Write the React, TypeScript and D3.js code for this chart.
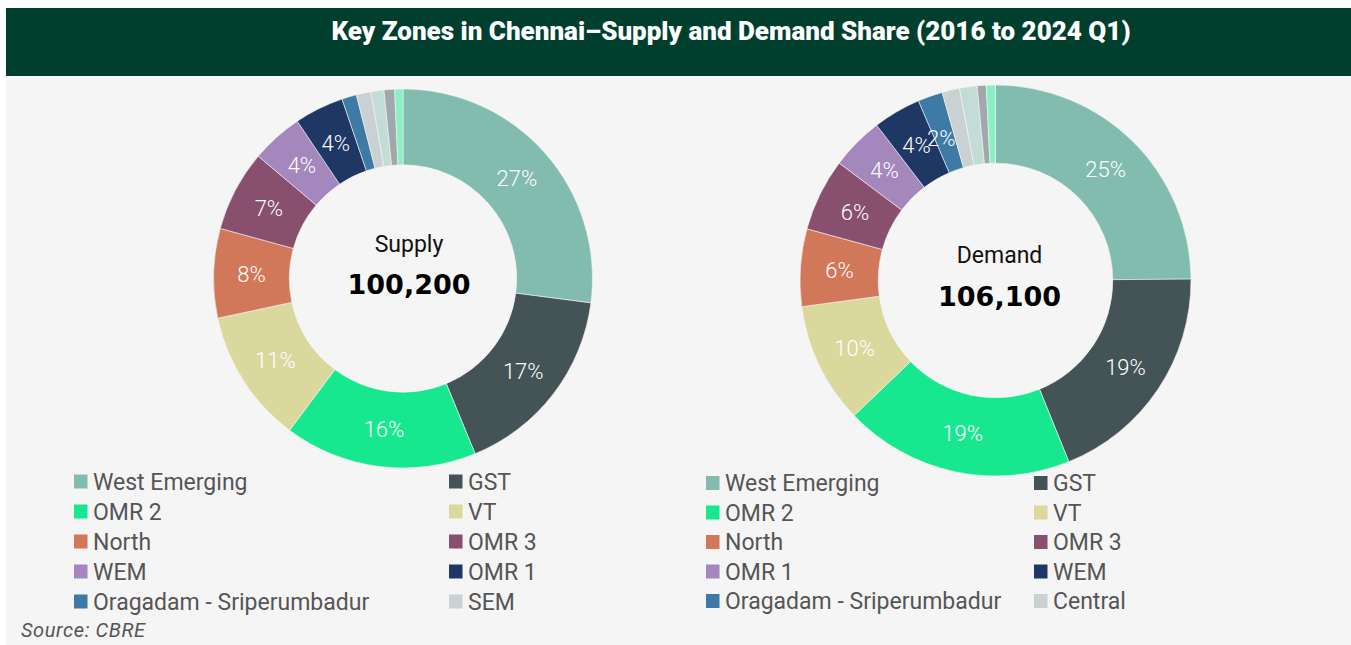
import React from "react";
import * as d3 from "d3";

const TITLE = "Key Zones in Chennai–Supply and Demand Share (2016 to 2024 Q1)";
const SOURCE = "Source: CBRE";

const supplyZones = ["West Emerging", "GST", "OMR 2", "VT", "North", "OMR 3", "WEM", "OMR 1", "Oragadam - Sriperumbadur", "SEM", "Others 1", "Others 2", "Others 3"];
const supplyShares = [27.0, 16.7, 16.4, 11.4, 7.6, 6.9, 4.4, 4.2, 1.25, 1.25, 1.1, 0.9, 0.7];
const supplyTotal = "100,200";

const demandZones = ["West Emerging", "GST", "OMR 2", "VT", "North", "OMR 3", "OMR 1", "WEM", "Oragadam - Sriperumbadur", "Central", "Others 1", "Others 2", "Others 3"];
const demandShares = [24.9, 19.0, 19.0, 10.0, 6.4, 6.0, 4.35, 3.95, 2.05, 1.45, 1.45, 0.75, 0.75];
const demandTotal = "106,100";

const palette = ["#82bcae", "#435356", "#17e88f", "#dbd89d", "#d2785a", "#884f6e", "#a487bd", "#1f3764", "#3d7aa5", "#cad1d3", "#c3ddd6", "#a1a8aa", "#89f0c6"];

const LEGEND_COUNT = 10;

type Panel = {
  label: string;
  total: string;
  zones: string[];
  shares: number[];
  cx: number; cy: number; r: number;
  textDx: number; labelDy: number; totalDy: number;
  legendX1: number; legendX2: number; legendY: number; legendStep: number;
};

const panels: Panel[] = [
  { label: "Supply", total: supplyTotal, zones: supplyZones, shares: supplyShares,
    cx: 403, cy: 278.5, r: 189.5, textDx: 6, labelDy: -27, totalDy: 15,
    legendX1: 74, legendX2: 449, legendY: 481.5, legendStep: 30 },
  { label: "Demand", total: demandTotal, zones: demandZones, shares: demandShares,
    cx: 995.5, cy: 280.5, r: 195.5, textDx: 4, labelDy: -18, totalDy: 25,
    legendX1: 706, legendX2: 1034, legendY: 483, legendStep: 29.5 },
];

function Donut({ p }: { p: Panel }) {
  const pie = d3.pie<number>().value((d) => d).sort(null);
  const arcs = pie(p.shares);
  const inner = p.r * 0.6;
  const arc = d3.arc<d3.PieArcDatum<number>>().innerRadius(inner).outerRadius(p.r);
  const total = d3.sum(p.shares);
  return (
    <g>
      <g transform={`translate(${p.cx},${p.cy})`}>
        {arcs.map((a, i) => (
          <path key={i} d={arc(a) || ""} fill={palette[i]} stroke="#f5f5f5" strokeWidth={0.6} />
        ))}
        {arcs.map((a, i) => {
          const pct = (a.data / total) * 100;
          if (pct < 1.9) return null;
          const [x, y] = arc.centroid(a);
          const small = pct < 3;
          return (
            <text key={"l" + i} x={x + (small ? -2 : 0)} y={y + (small ? 5 : 0)} dy="0.36em"
              textAnchor="middle"
              fill="#ffffff" fontFamily="Roboto, sans-serif" fontWeight={300} fontSize={22}>
              {Math.round(pct) + "%"}
            </text>
          );
        })}
        <text x={p.textDx} y={p.labelDy} textAnchor="middle" fontFamily="Roboto, sans-serif" fontSize={23} fill="#111">{p.label}</text>
        <text x={p.textDx} y={p.totalDy} textAnchor="middle" fontFamily="'DejaVu Sans', sans-serif" fontWeight={700} fontSize={27} fill="#000">{p.total}</text>
      </g>
      {p.zones.slice(0, LEGEND_COUNT).map((z, i) => {
        const col = i % 2;
        const row = Math.floor(i / 2);
        const x = col === 0 ? p.legendX1 : p.legendX2;
        const y = p.legendY + row * p.legendStep;
        return (
          <g key={"lg" + i}>
            <rect x={x} y={y - 7} width={13.5} height={14} fill={palette[i]} />
            <text x={x + 19} y={y} dy="0.36em" fontFamily="Roboto, sans-serif" fontSize={23} fill="#555">{z}</text>
          </g>
        );
      })}
    </g>
  );
}

export default function App() {
  const W = 1351, H = 645;
  return (
    <svg width={W} height={H} style={{ position: "absolute", left: 0, top: 0 }}>
      <rect x={0} y={0} width={W} height={H} fill="#ffffff" />
      <rect x={6} y={76} width={W - 6} height={H - 76} fill="#f5f5f5" />
      <rect x={6} y={8} width={W - 6} height={68} fill="#003f2d" />
      <text x={731} y={40} textAnchor="middle" fontFamily="Roboto, sans-serif" fontWeight={900} fontSize={26} fill="#ffffff">{TITLE}</text>
      {panels.map((p, i) => <Donut key={i} p={p} />)}
      <text x={21} y={637} fontFamily="Roboto, sans-serif" fontStyle="italic" fontSize={20} letterSpacing={0.6} fill="#555">{SOURCE}</text>
    </svg>
  );
}
